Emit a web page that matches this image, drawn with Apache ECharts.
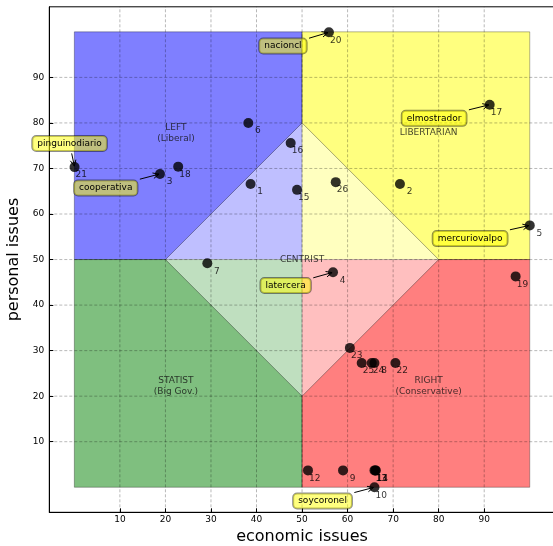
<!DOCTYPE html>
<html><head><meta charset="utf-8">
<script src="https://cdn.jsdelivr.net/npm/echarts@6/dist/echarts.min.js"></script>
<style>html,body{margin:0;padding:0;background:#fff}#c{width:553px;height:546px}</style>
</head><body><div id="c"></div>
<script>
// ---------- DATA ----------
const pointIds       = [1, 2, 3, 4, 5, 6, 7, 8, 9, 10, 11, 12, 13, 14, 15, 16, 17, 18, 19, 20, 21, 22, 23, 24, 25, 26];
const econValues     = [38.7, 71.5, 18.8, 56.8, 100, 38.2, 29.2, 65.9, 59.0, 65.9, 66.1, 51.3, 65.9, 66.2, 48.9, 47.5, 91.2, 22.8, 96.9, 55.9, 0.05, 70.5, 60.5, 65.3, 63.1, 57.4];
const personalValues = [66.6, 66.6, 68.8, 47.2, 57.5, 80.0, 49.2, 27.3, 3.7, 0.0, 3.7, 3.7, 3.7, 3.7, 65.3, 75.6, 84.0, 70.4, 46.3, 99.9, 70.3, 27.3, 30.6, 27.3, 27.3, 67.0];

const xTickValues = [10, 20, 30, 40, 50, 60, 70, 80, 90];
const yTickValues = [10, 20, 30, 40, 50, 60, 70, 80, 90];
const axisMin = -5.5, axisMax = 105.5;

const quadrantX0 = [0, 50, 0, 50];
const quadrantX1 = [50, 100, 50, 100];
const quadrantY0 = [50, 50, 0, 0];
const quadrantY1 = [100, 100, 50, 50];
const diamondEcon     = [50, 80, 50, 20];
const diamondPersonal = [80, 50, 20, 50];

const regionLabels = ['LEFT\n(Liberal)', 'LIBERTARIAN', 'CENTRIST', 'STATIST\n(Big Gov.)', 'RIGHT\n(Conservative)'];
const regionLabelX = [22.3, 77.8, 50, 22.3, 77.8];
const regionLabelY = [77.7, 77.8, 50, 22.1, 22.1];

const annotationTexts   = ['nacioncl', 'pinguinodiario', 'cooperativa', 'elmostrador', 'mercuriovalpo', 'latercera', 'soycoronel'];
const annotationTargets = [20, 21, 3, 17, 5, 4, 10];
const annotationX       = [45.8, -1.05, 6.9, 79.0, 86.9, 46.4, 54.5];
const annotationY       = [96.9, 75.5, 65.7, 81.0, 54.6, 44.3, -3.0];

// ---------- STYLE ----------
const FONT = '"DejaVu Sans", "Liberation Sans", sans-serif';
const quadrantColors = ['rgba(0,0,255,0.5)', 'rgba(255,255,0,0.5)', 'rgba(0,128,0,0.5)', 'rgba(255,0,0,0.5)'];
const diamondColor = 'rgba(255,255,255,0.5)';

const measureCtx = document.createElement('canvas').getContext('2d');
measureCtx.font = '9px ' + FONT;
function textWidth(t){ return measureCtx.measureText(t).width; }

const chart = echarts.init(document.getElementById('c'), null, {renderer: 'canvas'});

const pointData = pointIds.map((id, i) => [econValues[i], personalValues[i], id]);

const option = {
  backgroundColor: '#fff',
  animation: false,
  grid: {left: 49.3, top: 6.8, width: 505.5, height: 505.5, show: true, borderColor: '#000', borderWidth: 1, backgroundColor: 'transparent',
         containLabel: false, outerBoundsMode: 'none'},
  xAxis: [{
    type: 'value', min: axisMin, max: axisMax,
    name: 'economic issues', nameLocation: 'middle', nameGap: 15,
    nameTextStyle: {fontFamily: FONT, fontSize: 16, color: '#000'},
    axisLine: {show: true, onZero: false, lineStyle: {color: '#000', width: 1}},
    axisTick: {show: true, inside: true, length: 4, customValues: xTickValues, lineStyle: {color: '#000'}},
    axisLabel: {customValues: xTickValues, fontFamily: FONT, fontSize: 9, color: '#000', margin: 3},
    splitLine: {show: false}
  }],
  yAxis: [{
    type: 'value', min: axisMin, max: axisMax,
    name: 'personal issues', nameLocation: 'middle', nameGap: 21,
    nameTextStyle: {fontFamily: FONT, fontSize: 16, color: '#000'},
    axisLine: {show: true, onZero: false, lineStyle: {color: '#000', width: 1}},
    axisTick: {show: true, inside: true, length: 4, customValues: yTickValues, lineStyle: {color: '#000'}},
    axisLabel: {customValues: yTickValues, fontFamily: FONT, fontSize: 9, color: '#000', margin: 5},
    splitLine: {show: false}
  }],
  series: [
    { // quadrants
      type: 'custom', z: 1, silent: true,
      data: quadrantX0.map((v, i) => [quadrantX0[i], quadrantY0[i], quadrantX1[i], quadrantY1[i]]),
      renderItem(params, api) {
        const i = params.dataIndex;
        const pts = [[quadrantX0[i], quadrantY0[i]], [quadrantX1[i], quadrantY0[i]], [quadrantX1[i], quadrantY1[i]], [quadrantX0[i], quadrantY1[i]]].map(p => api.coord(p));
        return {type: 'polygon', shape: {points: pts}, style: {fill: quadrantColors[i], stroke: 'rgba(0,0,0,0.3)', lineWidth: 1}};
      }
    },
    { // centrist diamond
      type: 'custom', z: 2, silent: true,
      data: [[diamondEcon[0], diamondPersonal[0]]],
      renderItem(params, api) {
        const pts = diamondEcon.map((x, i) => api.coord([x, diamondPersonal[i]]));
        return {type: 'polygon', shape: {points: pts}, style: {fill: diamondColor, stroke: 'rgba(0,0,0,0.35)', lineWidth: 1}};
      }
    },
    { // grid lines
      type: 'custom', z: 3, silent: true,
      data: xTickValues.map(v => [v, 0]).concat(yTickValues.map(v => [v, 1])),
      renderItem(params, api) {
        const i = params.dataIndex;
        let a, b;
        if (i < xTickValues.length) {
          const v = xTickValues[i];
          a = api.coord([v, axisMin]); b = api.coord([v, axisMax]);
        } else {
          const v = yTickValues[i - xTickValues.length];
          a = api.coord([axisMin, v]); b = api.coord([axisMax, v]);
        }
        return {type: 'line', shape: {x1: a[0], y1: a[1], x2: b[0], y2: b[1]}, style: {stroke: 'rgba(0,0,0,0.28)', lineWidth: 1, lineDash: [3, 2]}};
      }
    },
    { // region labels
      type: 'scatter', z: 4, silent: true, symbolSize: 0,
      data: regionLabels.map((t, i) => [regionLabelX[i], regionLabelY[i], t]),
      label: {show: true, position: 'inside', formatter: p => p.data[2], fontFamily: FONT, fontSize: 9, color: '#111', lineHeight: 11, align: 'center', verticalAlign: 'middle'}
    },
    { // points
      type: 'scatter', z: 5, symbol: 'circle', symbolSize: 10,
      itemStyle: {color: '#000'},
      data: pointData,
      label: {show: true, position: [17.5, 13], align: 'right', verticalAlign: 'middle', formatter: p => String(p.data[2]), fontFamily: FONT, fontSize: 9, color: '#000'}
    },
    { // annotations
      type: 'custom', z: 6, silent: true,
      data: annotationTexts.map((t, i) => [annotationX[i], annotationY[i]]),
      renderItem(params, api) {
        const i = params.dataIndex;
        const text = annotationTexts[i];
        const ti = pointIds.indexOf(annotationTargets[i]);
        const c = api.coord([annotationX[i], annotationY[i]]);
        const p = api.coord([econValues[ti], personalValues[ti]]);
        const w = textWidth(text) + 12, h = 17;
        const dx = p[0] - c[0], dy = p[1] - c[1];
        const len = Math.hypot(dx, dy);
        const ux = dx / len, uy = dy / len;
        const s = Math.min(Math.abs(dx) > 1e-6 ? (w / 2) / Math.abs(dx) : Infinity, Math.abs(dy) > 1e-6 ? (h / 2) / Math.abs(dy) : Infinity);
        const sx = c[0] + dx * s + ux * 1.5, sy = c[1] + dy * s + uy * 1.5;
        const ex = p[0] - ux * 1, ey = p[1] - uy * 1;
        const hl = 6, hw = 2.8;
        const bx = ex - ux * hl, by = ey - uy * hl;
        const h1 = [bx - uy * hw, by + ux * hw], h2 = [bx + uy * hw, by - ux * hw];
        return {type: 'group', children: [
          {type: 'line', shape: {x1: sx, y1: sy, x2: ex, y2: ey}, style: {stroke: '#000', lineWidth: 1}},
          {type: 'polyline', shape: {points: [h1, [ex, ey], h2]}, style: {stroke: '#000', lineWidth: 1, fill: null}},
          {type: 'text', x: c[0], y: c[1], style: {text: text, font: '9px ' + FONT, fill: '#000', align: 'center', verticalAlign: 'middle',
            backgroundColor: 'rgba(255,255,0,0.5)', borderColor: 'rgba(0,0,0,0.45)', borderWidth: 1, borderRadius: 4, padding: [3, 5]}}
        ]};
      }
    }
  ]
};
chart.setOption(option);
</script>
</body></html>
